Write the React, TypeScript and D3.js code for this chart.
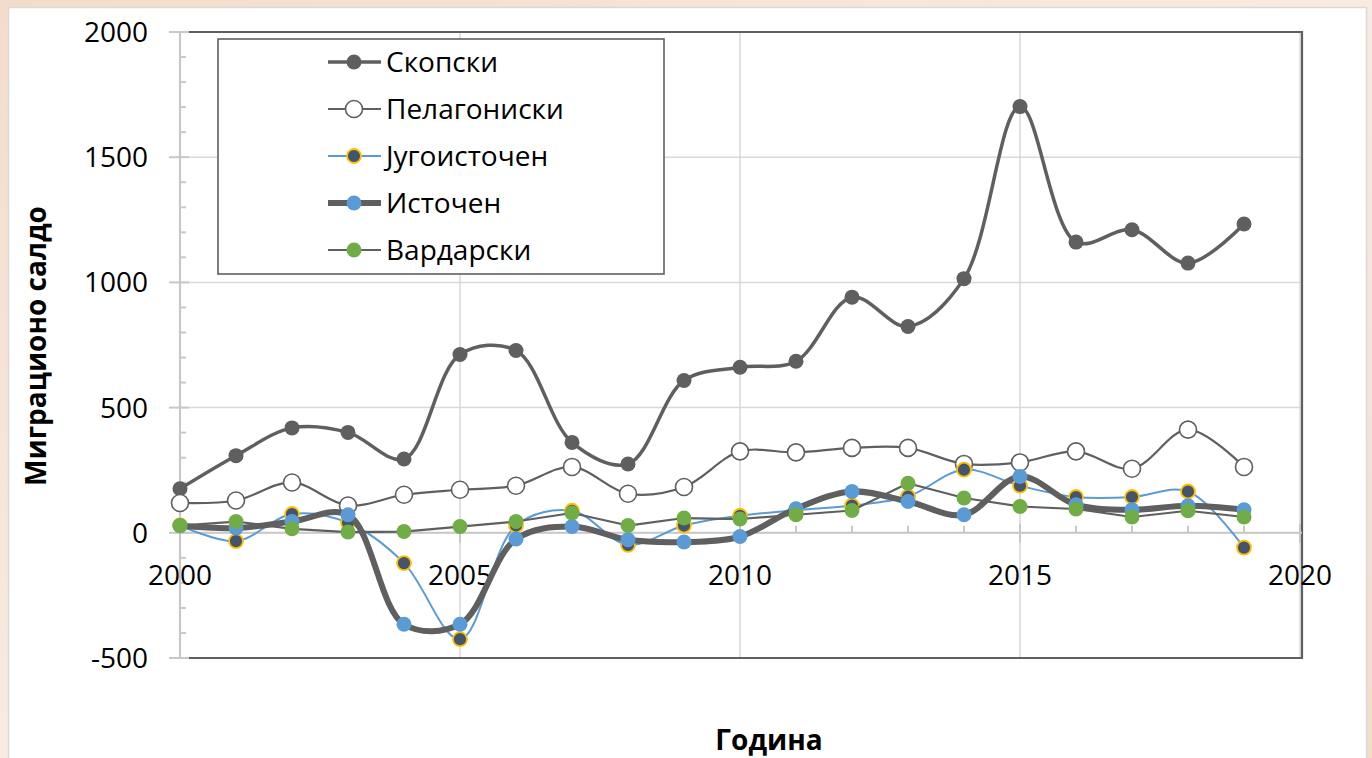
import React from "react";
import * as d3 from "d3";

const years = [2000, 2001, 2002, 2003, 2004, 2005, 2006, 2007, 2008, 2009, 2010, 2011, 2012, 2013, 2014, 2015, 2016, 2017, 2018, 2019];

const skopski = [176, 308, 419, 401, 295, 712, 728, 361, 275, 608, 661, 685, 941, 824, 1015, 1702, 1161, 1210, 1077, 1233];
const pelagoniski = [119, 129, 201, 109, 152, 172, 188, 263, 156, 183, 325, 321, 339, 339, 275, 281, 325, 256, 412, 263];
const jugoistocen = [30, -33, 75, 40, -121, -425, 29, 88, -48, 29, 68, 90, 109, 145, 252, 188, 143, 143, 165, -59];
const istocen = [28, 19, 45, 72, -365, -365, -25, 25, -28, -37, -15, 96, 165, 125, 72, 225, 112, 92, 108, 92];
const vardarski = [29, 45, 16, 3, 5, 25, 45, 79, 29, 59, 55, 72, 89, 198, 139, 105, 95, 63, 88, 63];

const seriesNames = ["Скопски", "Пелагониски", "Југоисточен", "Источен", "Вардарски"];
const yTicks = [-500, 0, 500, 1000, 1500, 2000];
const yMinorTicks = [-400, -300, -200, -100, 100, 200, 300, 400, 600, 700, 800, 900, 1100, 1200, 1300, 1400, 1600, 1700, 1800, 1900];
const xTicks = [2000, 2005, 2010, 2015, 2020];
const yTitle = "Миграционо салдо";
const xTitle = "Година";

type Style = {
  values: number[];
  lineColor: string;
  lineWidth: number;
  smooth: boolean;
  fill: string;
  stroke: string;
  strokeWidth: number;
  r: number;
};

const styles: Style[] = [
  { values: skopski, lineColor: "#5f5f5f", lineWidth: 3.5, smooth: true, fill: "#5f5f5f", stroke: "none", strokeWidth: 0, r: 7.5 },
  { values: pelagoniski, lineColor: "#5f5f5f", lineWidth: 2.2, smooth: true, fill: "#ffffff", stroke: "#5f5f5f", strokeWidth: 1.6, r: 8.5 },
  { values: jugoistocen, lineColor: "#5b9bd5", lineWidth: 2, smooth: true, fill: "#44546a", stroke: "#ffc000", strokeWidth: 1.8, r: 7 },
  { values: istocen, lineColor: "#5f5f5f", lineWidth: 6, smooth: true, fill: "#5b9bd5", stroke: "none", strokeWidth: 0, r: 7.5 },
  { values: vardarski, lineColor: "#5f5f5f", lineWidth: 2.2, smooth: false, fill: "#70ad47", stroke: "none", strokeWidth: 0, r: 7.5 },
];

const FONT = "'Open Sans', 'Noto Sans', sans-serif";
const FS = 28;

export default function App() {
  const W = 1372;
  const H = 758;
  const x = d3.scaleLinear().domain([2000, 2020]).range([180, 1300]);
  const y = d3.scaleLinear().domain([-500, 2000]).range([658, 32]);
  const left = 180, right = 1302, top = 32, bottom = 658;

  const lineGen = (smooth: boolean) =>
    d3
      .line<number>()
      .x((_, i) => x(years[i]))
      .y((d) => y(d))
      .curve(smooth ? d3.curveCatmullRom.alpha(0.5) : d3.curveLinear);

  const legendX = 218, legendY = 39, legendW = 446, legendH = 235;
  const rowY = (i: number) => 62 + i * 47;

  return (
    <svg
      width={W}
      height={H}
      style={{ position: "fixed", left: 0, top: 0, display: "block" }}
      fontFamily={FONT}
    >
      <defs>
        <linearGradient id="bg" x1="0" y1="0" x2="1" y2="1">
          <stop offset="0" stopColor="#f4dccb" />
          <stop offset="0.5" stopColor="#f8ebe1" />
          <stop offset="1" stopColor="#f3dcca" />
        </linearGradient>
      </defs>
      <rect x={0} y={0} width={W} height={H} fill="url(#bg)" />
      <rect x={8.5} y={7.5} width={1358} height={760} fill="#ffffff" stroke="#d9d9d9" strokeWidth={1.5} />

      {/* gridlines */}
      {yTicks.map((t) => (
        <line key={"gy" + t} x1={left} x2={right} y1={y(t)} y2={y(t)} stroke="#d9d9d9" strokeWidth={1.5} />
      ))}
      {xTicks.map((t) => (
        <line key={"gx" + t} x1={x(t)} x2={x(t)} y1={top} y2={bottom} stroke="#d9d9d9" strokeWidth={1.5} />
      ))}

      {/* plot border */}
      <path d={`M${left},${top}H${right}V${bottom}H${left}`} fill="none" stroke="#5f5f5f" strokeWidth={2.2} />

      {/* x axis at 0 */}
      <line x1={left} x2={right} y1={y(0)} y2={y(0)} stroke="#c8c8c8" strokeWidth={2} />
      {years.map((t) => (
        <line key={"mx" + t} x1={x(t)} x2={x(t)} y1={y(0) - 7} y2={y(0)} stroke="#c8c8c8" strokeWidth={2} />
      ))}
      {xTicks.map((t) => (
        <line key={"Mx" + t} x1={x(t)} x2={x(t)} y1={y(0) - 9} y2={y(0) + 10} stroke="#c8c8c8" strokeWidth={2} />
      ))}

      {/* y axis */}
      <line x1={left} x2={left} y1={top} y2={bottom} stroke="#c8c8c8" strokeWidth={2.2} />
      {yMinorTicks.map((t) => (
        <line key={"my" + t} x1={left} x2={left + 6} y1={y(t)} y2={y(t)} stroke="#c8c8c8" strokeWidth={2} />
      ))}
      {yTicks.map((t) => (
        <line key={"My" + t} x1={left - 11} x2={left + 9} y1={y(t)} y2={y(t)} stroke="#c8c8c8" strokeWidth={2} />
      ))}

      {/* tick labels */}
      {yTicks.map((t) => (
        <text key={"ly" + t} x={148} y={y(t)} dy="0.36em" textAnchor="end" fontSize={FS} fill="#000">
          {t}
        </text>
      ))}
      {xTicks.map((t) => (
        <text key={"lx" + t} x={x(t)} y={y(0) + 52} textAnchor="middle" fontSize={FS} fill="#000">
          {t}
        </text>
      ))}

      {/* series */}
      {styles.map((s, si) => (
        <g key={"s" + si}>
          <path d={lineGen(s.smooth)(s.values) || ""} fill="none" stroke={s.lineColor} strokeWidth={s.lineWidth} strokeLinejoin="round" strokeLinecap="round" />
          {s.values.map((v, i) => (
            <circle key={i} cx={x(years[i])} cy={y(v)} r={s.r} fill={s.fill} stroke={s.stroke} strokeWidth={s.strokeWidth} />
          ))}
        </g>
      ))}

      {/* legend */}
      <rect x={legendX} y={legendY} width={legendW} height={legendH} fill="#ffffff" stroke="#5f5f5f" strokeWidth={1.6} />
      {styles.map((s, i) => (
        <g key={"lg" + i}>
          <line x1={328} x2={381} y1={rowY(i)} y2={rowY(i)} stroke={s.lineColor} strokeWidth={s.lineWidth} />
          <circle cx={354} cy={rowY(i)} r={s.r} fill={s.fill} stroke={s.stroke} strokeWidth={s.strokeWidth} />
          <text x={386} y={rowY(i)} dy="0.36em" fontSize={FS} fill="#000">
            {seriesNames[i]}
          </text>
        </g>
      ))}

      {/* axis titles */}
      <text
        transform={`translate(46,346) rotate(-90)`}
        textAnchor="middle"
        fontSize={FS}
        fontWeight="bold"
        fill="#000"
      >
        {yTitle}
      </text>
      <text x={769} y={750} textAnchor="middle" fontSize={FS} fontWeight="bold" fill="#000">
        {xTitle}
      </text>
    </svg>
  );
}
